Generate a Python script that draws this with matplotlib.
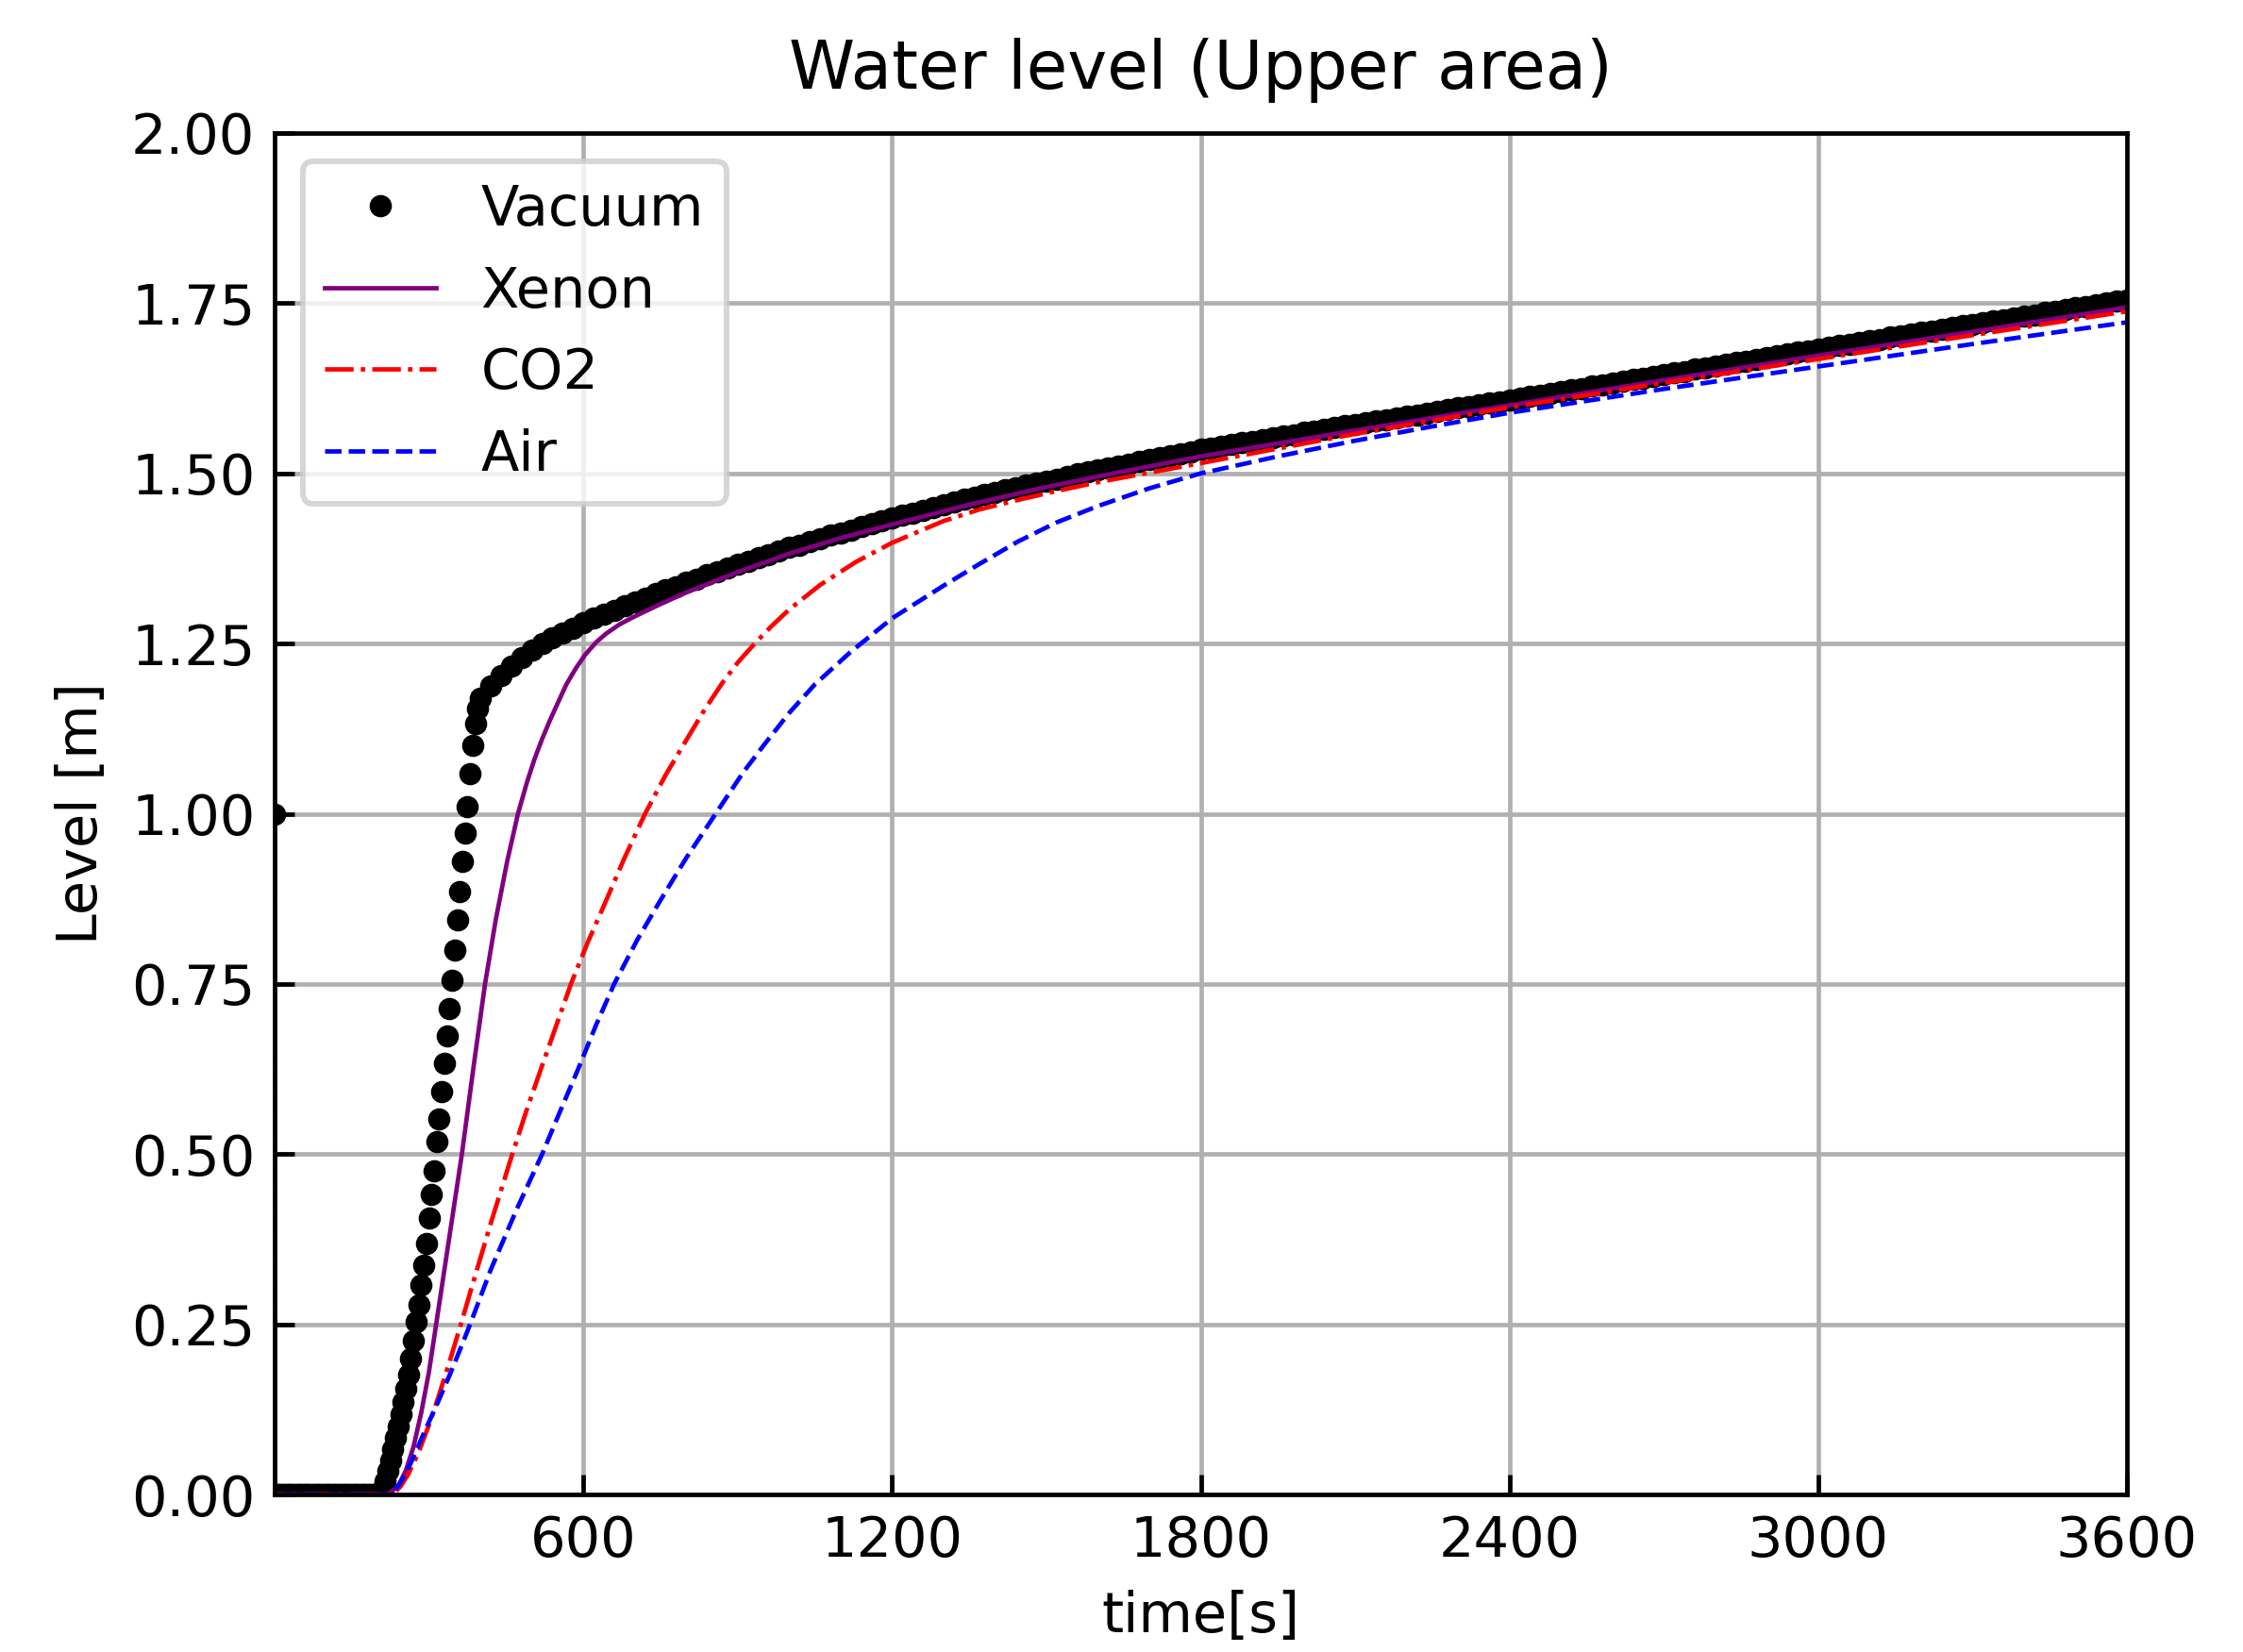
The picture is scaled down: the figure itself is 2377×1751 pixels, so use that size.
import matplotlib
matplotlib.use('Agg')
import matplotlib.pyplot as plt
import numpy as np

# Vacuum: sampled every 5 s up to 400 s, then every 20 s
t_vac = np.concatenate([np.arange(0, 401, 5), np.arange(420, 3601, 20)])
lvl_vac = ([1.0] + [0.0]*41 +
	[0.008, 0.020, 0.034, 0.050, 0.066, 0.083, 0.100, 0.118, 0.136, 0.155, 0.176, 0.199,
	 0.226, 0.253, 0.279, 0.308, 0.337, 0.369, 0.406, 0.441, 0.475, 0.518, 0.552, 0.592,
	 0.634, 0.674, 0.714, 0.756, 0.800, 0.844, 0.886, 0.930, 0.971, 1.010, 1.059, 1.100,
	 1.133, 1.155, 1.170] +
	[1.188, 1.203, 1.217, 1.229, 1.240, 1.250, 1.258, 1.266, 1.273, 1.280,
	 1.287, 1.293, 1.299, 1.305, 1.311, 1.317, 1.323, 1.329, 1.334, 1.340,
	 1.345, 1.351, 1.356, 1.361, 1.366, 1.371, 1.376, 1.381, 1.386, 1.391,
	 1.395, 1.400, 1.404, 1.409, 1.413, 1.417, 1.422, 1.426, 1.430, 1.434,
	 1.438, 1.442, 1.446, 1.450, 1.454, 1.458, 1.462, 1.465, 1.469, 1.472,
	 1.476, 1.479, 1.483, 1.486, 1.489, 1.492, 1.496, 1.499, 1.502, 1.505,
	 1.508, 1.511, 1.514, 1.517, 1.520, 1.523, 1.526, 1.529, 1.532, 1.535,
	 1.537, 1.540, 1.542, 1.545, 1.547, 1.550, 1.552, 1.555, 1.557, 1.560,
	 1.562, 1.565, 1.567, 1.570, 1.572, 1.574, 1.577, 1.579, 1.582, 1.584,
	 1.586, 1.589, 1.591, 1.594, 1.596, 1.598, 1.601, 1.603, 1.605, 1.608,
	 1.610, 1.613, 1.615, 1.618, 1.620, 1.623, 1.625, 1.628, 1.630, 1.633,
	 1.635, 1.638, 1.640, 1.643, 1.645, 1.648, 1.650, 1.653, 1.655, 1.658,
	 1.660, 1.663, 1.665, 1.668, 1.670, 1.673, 1.675, 1.678, 1.680, 1.683,
	 1.685, 1.688, 1.690, 1.693, 1.695, 1.697, 1.700, 1.702, 1.705, 1.707,
	 1.709, 1.712, 1.714, 1.717, 1.719, 1.721, 1.724, 1.726, 1.729, 1.731,
	 1.733, 1.736, 1.738, 1.741, 1.743, 1.745, 1.748, 1.750, 1.753, 1.755])

t_xe = [0, 1, 220, 240, 255, 270, 285, 300, 314, 340, 364, 387, 409, 430, 452, 473, 490, 505,
	520, 535, 550, 567, 585, 603, 625, 645, 670, 700, 750, 800, 900, 1000, 1100, 1200, 1350,
	1500, 1650, 1800, 2100, 2400, 2700, 3000, 3300, 3600]
lvl_xe = [1.0, 0.0, 0.0, 0.012, 0.035, 0.07, 0.12, 0.18, 0.25, 0.38, 0.5, 0.63, 0.75, 0.845, 0.93, 1.0, 1.045, 1.08,
	1.11, 1.137, 1.162, 1.19, 1.213, 1.233, 1.252, 1.265, 1.278, 1.29, 1.308, 1.325, 1.355, 1.382, 1.405, 1.425, 1.454,
	1.48, 1.503, 1.525, 1.563, 1.60, 1.637, 1.673, 1.708, 1.744]

t_co2 = [0, 1, 225, 232, 245, 260, 280, 300, 320, 340, 362, 390, 420, 462, 490, 520, 548, 576,
	608, 640, 680, 720, 760, 800, 835, 870, 900, 933, 965, 1000, 1060, 1130, 1200, 1300, 1370,
	1445, 1520, 1600, 1700, 1800, 2100, 2400, 2700, 3000, 3300, 3600]
lvl_co2 = [1.0, 0.0, 0.0, 0.002, 0.012, 0.03, 0.062, 0.102, 0.147, 0.195, 0.25, 0.322, 0.398, 0.5, 0.565, 0.63, 0.69, 0.75,
	0.81, 0.865, 0.935, 1.0, 1.057, 1.108, 1.152, 1.192, 1.222, 1.25, 1.275, 1.30, 1.336, 1.37, 1.398, 1.43, 1.447,
	1.461, 1.474, 1.487, 1.501, 1.515, 1.558, 1.597, 1.633, 1.668, 1.703, 1.738]

t_air = [0, 1, 225, 240, 255, 270, 290, 316, 340, 360, 380, 420, 470, 520, 555, 590, 625, 660,
	705, 750, 800, 866, 910, 950, 1000, 1050, 1120, 1200, 1300, 1370, 1445, 1520, 1600, 1700,
	1800, 1950, 2100, 2250, 2400, 2700, 3000, 3300, 3600]
lvl_air = [1.0, 0.0, 0.0, 0.012, 0.03, 0.055, 0.09, 0.133, 0.175, 0.212, 0.25, 0.33, 0.418, 0.5, 0.563, 0.625, 0.69, 0.75,
	0.815, 0.873, 0.935, 1.01, 1.06, 1.10, 1.148, 1.19, 1.238, 1.287, 1.335, 1.367, 1.40, 1.428, 1.452, 1.478,
	1.50, 1.525, 1.548, 1.569, 1.589, 1.624, 1.657, 1.69, 1.722]

x_ticks = [600, 1200, 1800, 2400, 3000, 3600]
y_ticks = [0, 0.25, 0.5, 0.75, 1.0, 1.25, 1.5, 1.75, 2.0]

dpi = 425
fig = plt.figure(figsize=(2377/dpi, 1751/dpi), dpi=dpi)
ax = fig.add_axes([291/2377, 1-1584/1751, (2254-291)/2377, (1584-141)/1751])

ax.plot(t_vac, lvl_vac, 'k.', label='Vacuum')
ax.plot(t_xe, lvl_xe, color='purple', lw=0.8, label='Xenon')
ax.plot(t_co2, lvl_co2, color='red', ls='-.', lw=0.8, label='CO2')
ax.plot(t_air, lvl_air, color='blue', ls='--', lw=0.8, label='Air')

ax.set_xlim(0, 3600)
ax.set_ylim(0, 2)
ax.set_xticks(x_ticks)
ax.set_yticks(y_ticks)
ax.tick_params(direction='in')
ax.grid(True)
ax.set_title('Water level (Upper area)', pad=8)
ax.set_xlabel('time[s]')
ax.set_ylabel('Level [m]')
ax.legend(loc='upper left')

fig.savefig('out.png', dpi=dpi)
